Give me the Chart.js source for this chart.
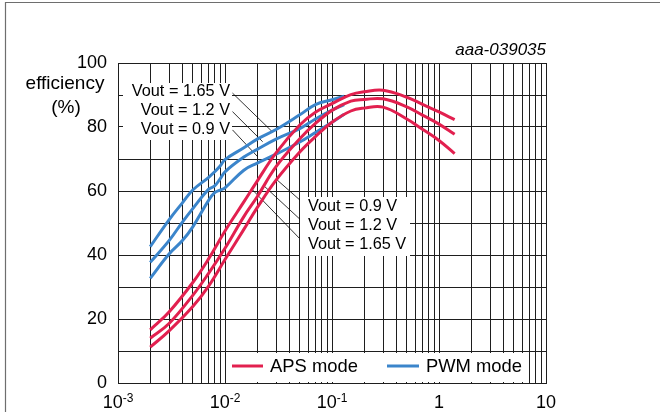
<!DOCTYPE html>
<html>
<head>
<meta charset="utf-8">
<script src="https://cdn.jsdelivr.net/npm/chart.js@4.4.1/dist/chart.umd.min.js"></script>
<style>
  html, body { margin: 0; padding: 0; background: #fff; }
  canvas { display: block; }
</style>
</head>
<body>
<canvas id="effChart" width="660" height="412"></canvas>
<script>
// x axis: load current (A), log scale
const decades = [0.001, 0.01, 0.1, 1, 10];
const decadeBase = ["10", "10", "10", "1", "10"];
const decadeExp = ["-3", "-2", "-1", "", ""];
const yTicks = [0, 20, 40, 60, 80, 100];

// APS mode
const apsLoad = [0.002, 0.003, 0.005, 0.007, 0.01, 0.015, 0.02, 0.03, 0.05, 0.07, 0.1, 0.15, 0.2, 0.3, 0.5, 0.7, 1, 1.4];
const aps165 = [16.6, 22.2, 31.4, 38.7, 47.5, 56.6, 63.1, 71.9, 80.6, 84.6, 87.3, 90.1, 91.0, 91.5, 89.3, 87.1, 84.7, 82.3];
const aps12 = [14.0, 18.6, 27.4, 34.2, 42.1, 52.0, 58.2, 67.6, 76.3, 81.1, 85.2, 88.1, 88.6, 88.8, 86.3, 83.7, 80.9, 77.7];
const aps09 = [11.2, 16.3, 23.9, 30.2, 38.6, 48.0, 54.8, 63.4, 72.2, 77.0, 81.5, 85.0, 85.9, 86.2, 82.5, 79.3, 75.8, 71.7];

// PWM mode
const pwmLoad = [0.002, 0.003, 0.004, 0.005, 0.007, 0.008, 0.009, 0.01, 0.015, 0.02, 0.03, 0.05, 0.07, 0.1, 0.13];
const pwm165 = [42.6, 51.0, 56.3, 60.3, 64.2, 66.0, 67.8, 69.8, 73.5, 76.2, 79.2, 83.8, 87.0, 88.5, 89.6];
const pwm12 = [37.7, 44.5, 50.3, 54.5, 60.5, 61.6, 63.8, 66.0, 70.6, 73.0, 76.2, 79.5, 82.5, 85.3, 87.0];
const pwm09 = [32.7, 40.3, 44.5, 48.8, 57.0, 59.5, 60.3, 61.0, 66.5, 68.7, 71.5, 75.3, 78.3, 81.5, 84.0];

// leader lines from the Vout labels to the curves [load, efficiency]
const leaderFrom = [[0.01175, 90.6], [0.01175, 84.8], [0.01175, 79.1], [0.0512, 56.9], [0.0512, 50.9], [0.0493, 45.3]];
const leaderTo = [[0.0279, 78.4], [0.0225, 75.4], [0.0202, 70.7], [0.0301, 63.7], [0.0233, 61.5], [0.01815, 60.3]];

const pwmLabels = ["Vout = 1.65 V", "Vout = 1.2 V", "Vout = 0.9 V"];
const apsLabels = ["Vout = 0.9 V", "Vout = 1.2 V", "Vout = 1.65 V"];

const RED = "#e2204f";
const BLUE = "#3b85cb";
const FONT = "'Liberation Sans', Arial, sans-serif";

// 1..9 x each decade for the log grid
const gridTicks = [];
decades.slice(0, -1).forEach((d) => {
  for (let m = 1; m < 10; m++) gridTicks.push(d * m);
});
gridTicks.push(decades[decades.length - 1]);

const toPoints = (xs, ys) => xs.map((x, i) => ({ x: x, y: ys[i] }));

const curve = (data, color) => ({
  data: data,
  borderColor: color,
  borderWidth: 3,
  pointRadius: 0,
  fill: false,
  tension: 0.4,
});

const datasets = [
  curve(toPoints(apsLoad, aps165), RED),
  curve(toPoints(apsLoad, aps12), RED),
  curve(toPoints(apsLoad, aps09), RED),
  curve(toPoints(pwmLoad, pwm165), BLUE),
  curve(toPoints(pwmLoad, pwm12), BLUE),
  curve(toPoints(pwmLoad, pwm09), BLUE),
];
leaderFrom.forEach((p, i) => {
  datasets.push({
    data: [{ x: p[0], y: p[1] }, { x: leaderTo[i][0], y: leaderTo[i][1] }],
    borderColor: "#000",
    borderWidth: 0.8,
    pointRadius: 0,
    order: 10,
  });
});

const decorations = {
  id: "decorations",
  beforeDraw(chart) {
    const ctx = chart.ctx;
    ctx.save();
    ctx.fillStyle = "#fff";
    ctx.fillRect(0, 0, chart.width, chart.height);
    // outer frame
    ctx.strokeStyle = "#6e6e6e";
    ctx.lineWidth = 1.2;
    ctx.beginPath();
    ctx.moveTo(5.5, chart.height);
    ctx.lineTo(5.5, 2.5);
    ctx.lineTo(chart.width, 2.5);
    ctx.stroke();
    ctx.restore();
  },
  afterDatasetsDraw(chart) {
    const ctx = chart.ctx;
    const xs = chart.scales.x;
    const area = chart.chartArea;
    ctx.save();
    ctx.fillStyle = "#000";

    // x tick labels with superscripts
    decades.forEach((d, i) => {
      const px = xs.getPixelForValue(d);
      ctx.font = "18px " + FONT;
      const wb = ctx.measureText(decadeBase[i]).width;
      ctx.font = "12px " + FONT;
      const we = ctx.measureText(decadeExp[i]).width;
      const left = px - (wb + we) / 2;
      ctx.textAlign = "left";
      ctx.textBaseline = "alphabetic";
      ctx.font = "18px " + FONT;
      ctx.fillText(decadeBase[i], left, 408);
      ctx.font = "12px " + FONT;
      ctx.fillText(decadeExp[i], left + wb, 402);
    });

    // y axis title
    ctx.textAlign = "center";
    ctx.textBaseline = "middle";
    ctx.font = "19px " + FONT;
    ctx.fillText("efficiency", 65, 84);
    ctx.fillText("(%)", 66, 108);

    // figure id
    ctx.font = "italic 17px " + FONT;
    ctx.textAlign = "right";
    ctx.fillText("aaa-039035", area.right, 50);

    // label boxes
    ctx.font = "16.3px " + FONT;
    ctx.fillStyle = "#fff";
    ctx.fillRect(123, 83, 109, 57);
    ctx.fillRect(300, 197, 110, 59);
    ctx.fillStyle = "#000";
    ctx.textAlign = "right";
    pwmLabels.forEach((t, i) => ctx.fillText(t, 230, 92 + i * 19));
    ctx.textAlign = "left";
    apsLabels.forEach((t, i) => ctx.fillText(t, 308, 207 + i * 19));

    // legend
    ctx.fillStyle = "#fff";
    ctx.fillRect(227, 353, 301, area.bottom - 353 - 1);
    ctx.lineWidth = 3;
    ctx.strokeStyle = RED;
    ctx.beginPath();
    ctx.moveTo(232, 366);
    ctx.lineTo(263, 366);
    ctx.stroke();
    ctx.strokeStyle = BLUE;
    ctx.beginPath();
    ctx.moveTo(387, 366);
    ctx.lineTo(419, 366);
    ctx.stroke();
    ctx.fillStyle = "#000";
    ctx.font = "18.4px " + FONT;
    ctx.textAlign = "left";
    ctx.fillText("APS mode", 270, 367);
    ctx.fillText("PWM mode", 426, 367);
    ctx.restore();
  },
};

new Chart(document.getElementById("effChart"), {
  type: "line",
  data: { datasets: datasets },
  options: {
    responsive: false,
    animation: false,
    layout: { padding: { left: 0, right: 114, top: 63, bottom: 0 } },
    plugins: { legend: { display: false }, tooltip: { enabled: false } },
    scales: {
      x: {
        type: "logarithmic",
        min: decades[0],
        max: decades[decades.length - 1],
        afterBuildTicks: (scale) => {
          scale.ticks = gridTicks.map((v) => ({ value: v }));
        },
        afterFit: (scale) => {
          scale.height = 29;
        },
        ticks: { display: false },
        grid: { color: "#1e1e1e", lineWidth: 1, drawTicks: false },
        border: { color: "#1e1e1e" },
      },
      y: {
        min: 0,
        max: 100,
        afterFit: (scale) => {
          scale.width = 118;
        },
        ticks: {
          stepSize: 10,
          padding: 11,
          color: "#000",
          font: { family: FONT, size: 18 },
          callback: (v) => (yTicks.includes(v) ? v : ""),
        },
        grid: { color: "#1e1e1e", lineWidth: 1, drawTicks: false },
        border: { color: "#1e1e1e" },
      },
    },
  },
  plugins: [decorations],
});
</script>
</body>
</html>
